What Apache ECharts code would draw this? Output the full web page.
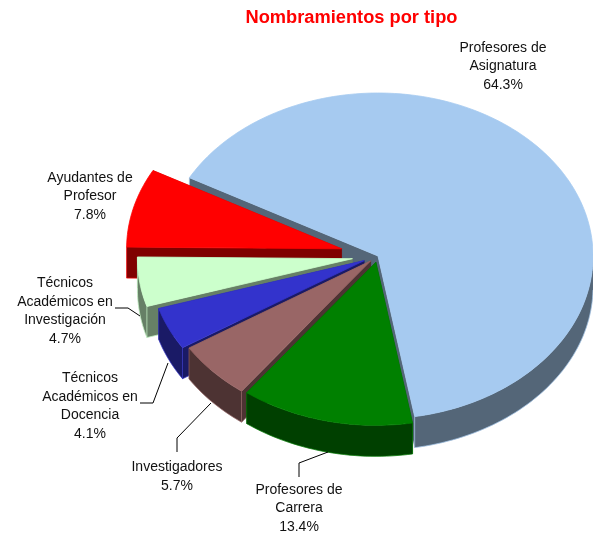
<!DOCTYPE html>
<html>
<head>
<meta charset="utf-8">
<style>html,body{margin:0;padding:0;background:#fff}#c{width:593px;height:533px}</style>
<script src="https://cdn.jsdelivr.net/npm/echarts@6/dist/echarts.min.js"></script>
</head>
<body>
<div id="c"></div>
<script>
// Data, clockwise from the first slice
const categories = ['Profesores de\nAsignatura', 'Profesores de\nCarrera', 'Investigadores', 'Técnicos\nAcadémicos en\nDocencia', 'Técnicos\nAcadémicos en\nInvestigación', 'Ayudantes de\nProfesor'];
const percents = [64.3, 13.4, 5.7, 4.1, 4.7, 7.8];
const explode = [0, 0.04, 0.045, 0.07, 0.12, 0.175];
const topColors = ['#A6CAF0', '#008000', '#996666', '#3333CC', '#CCFFCC', '#FF0000'];
const sideColors = ['#546678', '#004000', '#4D3333', '#1A1A66', '#668066', '#800000'];
const paintOrder = [0, 5, 4, 3, 2, 1];

// Pie geometry
const PIE = { cx: 378, cy: 256, rx: 215, ry: 163, depth: 31, startDeg: 298.7 };
// Label placement
const labelPos = [[503, 66.5], [299, 508.5], [177, 476.5], [90, 406], [65, 311], [90, 196.5]];
const leaders = [
  null,
  [[299, 477], [299, 463], [328, 452]],
  [[177, 452], [177, 438], [211, 403]],
  [[140, 403], [153, 403], [168, 363]],
  [[115, 308], [128, 308], [140, 316]],
  null
];

const total = percents.reduce((a, b) => a + b, 0);
const cumBefore = percents.map((_, i) => percents.slice(0, i).reduce((a, b) => a + b, 0));

// The 3D view compresses the lower-left quadrant's angles slightly
function projectAngle(deg) {
  const d = deg % 360;
  if (d <= 170 || d >= 271) return deg;
  return deg - 1.5 * Math.sin((d - 170) / 101 * Math.PI);
}
function pointAt(deg, ox, oy, dz) {
  const t = projectAngle(deg) * Math.PI / 180;
  return [ox + PIE.rx * Math.sin(t), oy - PIE.ry * Math.cos(t) + dz];
}
function renderSlice(params, api) {
  const idx = api.value(0);
  const from = api.value(1), to = api.value(2);
  const a0 = PIE.startDeg + echarts.number.linearMap(from, [0, total], [0, 360]);
  const a1 = PIE.startDeg + echarts.number.linearMap(to, [0, total], [0, 360]);
  const mid = (a0 + a1) / 2 * Math.PI / 180;
  const ox = PIE.cx + explode[idx] * PIE.rx * Math.sin(mid);
  const oy = PIE.cy - explode[idx] * PIE.ry * Math.cos(mid);
  const d = PIE.depth;
  const arc = [], arcLow = [], frontTop = [], frontLow = [];
  const n = Math.max(8, Math.ceil((a1 - a0) / 1.5));
  for (let k = 0; k <= n; k++) {
    const a = a0 + (a1 - a0) * k / n;
    const top = pointAt(a, ox, oy, 0), low = pointAt(a, ox, oy, d);
    arc.push(top);
    arcLow.push(low);
    const norm = a % 360;
    if (norm >= 90 && norm <= 271) {  // the part of the rim that faces the viewer
      frontTop.push(top);
      frontLow.push(low);
    }
  }
  const poly = (pts, fill, lw) => ({
    type: 'polygon',
    shape: { points: pts },
    style: { fill: fill, stroke: fill, lineWidth: lw, lineJoin: 'round' }
  });
  const edge = (pts, color) => ({
    type: 'polyline',
    shape: { points: pts },
    style: { fill: null, stroke: color, lineWidth: 0.8, opacity: 0.8 }
  });
  const c = topColors[idx], s = sideColors[idx];
  // the start wall only faces the viewer on the left half of the pie
  const startFaces = (a0 % 360) > 180 && (a0 % 360) < 271;
  const children = [
    poly([[ox, oy], arc[0], arcLow[0], [ox, oy + d]], s, 0.2),
    poly([[ox, oy], arc[n], arcLow[n], [ox, oy + d]], s, 0.2)
  ];
  if (frontTop.length > 1) {
    children.push(poly(frontTop.concat(frontLow.slice().reverse()), s, 0.2));
    children.push(edge(frontLow.concat([frontTop[frontTop.length - 1]]), c));
  }
  children.push(edge([arc[0], arcLow[0]], c));
  if (startFaces) children.push(edge([[ox, oy + d], arcLow[0]], c));
  children.push(poly([[ox, oy]].concat(arc), c, 0.8));
  return { type: 'group', children: children };
}

const sliceData = paintOrder.map(i => [i, cumBefore[i], cumBefore[i] + percents[i], percents[i]]);

const labelGraphics = categories.map((name, i) => ({
  type: 'text',
  x: labelPos[i][0],
  y: labelPos[i][1],
  z: 10,
  style: {
    text: name + '\n' + percents[i].toFixed(1) + '%',
    fill: '#111',
    font: '14px "Liberation Sans", Arial, sans-serif',
    lineHeight: 18.7,
    align: 'center',
    verticalAlign: 'middle'
  }
}));
const leaderGraphics = leaders.filter(Boolean).map(pts => ({
  type: 'polyline',
  z: 10,
  shape: { points: pts },
  style: { stroke: '#000', lineWidth: 1, fill: null }
}));

const chart = echarts.init(document.getElementById('c'), null, { renderer: 'canvas' });
chart.setOption({
  animation: false,
  backgroundColor: '#fff',
  title: {
    text: 'Nombramientos por tipo',
    left: 346.5, top: 4,
    textAlign: 'center',
    textStyle: { color: '#FF0000', fontWeight: 'bold', fontSize: 18.25, fontFamily: '"Liberation Sans", Arial, sans-serif' }
  },
  series: [{
    type: 'custom',
    coordinateSystem: 'none',
    renderItem: renderSlice,
    data: sliceData,
    silent: true
  }],
  graphic: labelGraphics.concat(leaderGraphics)
});
</script>
</body>
</html>
